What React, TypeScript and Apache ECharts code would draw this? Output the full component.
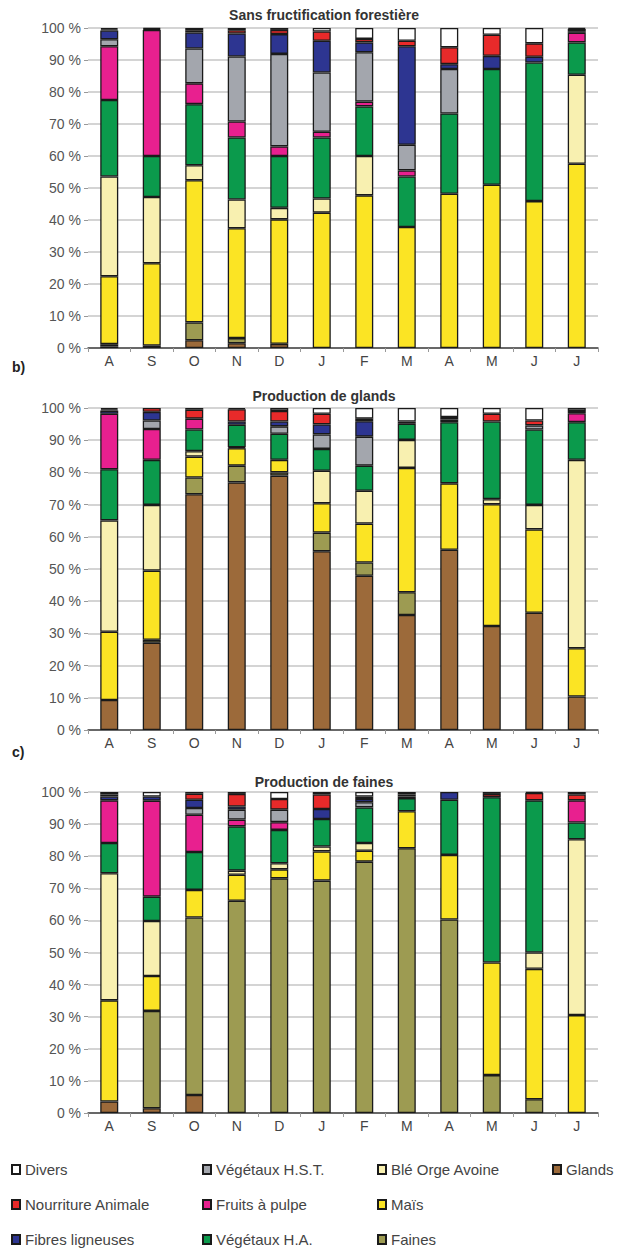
import React, { useEffect, useRef } from "react";
import * as echarts from "echarts";

const months = ["A", "S", "O", "N", "D", "J", "F", "M", "A", "M", "J", "J"];
const chartTitles = ["Sans fructification forestière", "Production de glands", "Production de faines"];
const panelTags = ["", "b)", "c)"];

const seriesNames = [
  "Glands", "Faines", "Maïs", "Blé Orge Avoine", "Végétaux H.A.",
  "Fruits à pulpe", "Végétaux H.S.T.", "Fibres ligneuses", "Nourriture Animale", "Divers",
];
const seriesColors = [
  "#9c6a3a", "#9d9b52", "#fbe424", "#f8f0b0", "#0b9a4c",
  "#e8208f", "#a3a6ad", "#2d3591", "#e82a2a", "#ffffff",
];

// a) Sans fructification forestière
const aGlands = [0.5, 0.8, 2.4, 1.5, 1.3, 0, 0, 0, 0, 0, 0, 0];
const aFaines = [0.7, 0, 5.6, 1.6, 0, 0, 0, 0, 0, 0, 0, 0];
const aMais = [21.2, 25.7, 44.4, 34.3, 38.9, 42.3, 47.7, 37.8, 48.2, 51, 45.9, 57.6];
const aBle = [31.2, 20.7, 4.7, 9.0, 3.6, 4.4, 12.3, 0, 0, 0, 0, 27.8];
const aHA = [23.9, 12.8, 19.1, 19.4, 16.2, 19.1, 15.5, 15.8, 25.1, 36.2, 43.3, 10.1];
const aFruits = [16.8, 39.4, 6.5, 5.0, 3.0, 1.8, 1.5, 1.9, 0, 0, 0, 3.0];
const aHST = [2.2, 0, 10.9, 20.3, 28.9, 18.5, 15.4, 8.0, 13.9, 0, 0, 0];
const aFibres = [2.7, 0.3, 5.0, 7.2, 6.2, 9.9, 3.1, 30.8, 1.5, 4.1, 1.8, 0.5];
const aNourr = [0.4, 0.3, 0.7, 1.0, 1.3, 2.9, 1.1, 1.7, 5.3, 6.6, 4.2, 0.7];
const aDivers = [0.4, 0, 0.7, 0.7, 0.6, 1.1, 3.4, 4.0, 6.0, 2.1, 4.8, 0.3];

// b) Production de glands
const bGlands = [9.3, 27.1, 73.2, 76.9, 79.0, 55.5, 47.9, 35.7, 56.0, 32.3, 36.4, 10.4];
const bFaines = [0, 0.9, 5.2, 5.2, 1.0, 5.8, 4.1, 7.1, 0, 0, 0, 0];
const bMais = [21.2, 21.5, 6.5, 5.4, 3.9, 9.1, 12.1, 38.6, 20.6, 37.8, 25.9, 15.0];
const bBle = [34.6, 20.4, 1.7, 0.3, 0, 10.1, 10.2, 8.7, 0, 1.6, 7.6, 58.5];
const bHA = [15.9, 14.0, 6.7, 7.0, 8.1, 6.8, 7.8, 5.0, 19.0, 24.1, 23.4, 11.7];
const bFruits = [17.2, 9.6, 3.4, 0, 0, 0, 0, 0.7, 0, 0, 0, 2.8];
const bHST = [0, 2.6, 0, 0, 2.3, 4.5, 9.0, 0, 0, 0, 1.3, 0];
const bFibres = [1.0, 2.7, 0, 1.0, 1.5, 3.1, 4.8, 0, 0.8, 0, 0, 0];
const bNourr = [0.4, 1.2, 2.8, 3.8, 3.3, 3.3, 0.8, 0, 0.8, 2.4, 1.5, 0.7];
const bDivers = [0.4, 0, 0.5, 0.4, 0.9, 1.8, 3.3, 4.2, 2.8, 1.8, 3.9, 0.9];

// c) Production de faines
const cGlands = [3.6, 1.5, 5.6, 0, 0, 0, 0, 0, 0, 0, 0, 0];
const cFaines = [0, 30.3, 55.3, 66.1, 73.1, 72.4, 78.3, 82.5, 60.3, 11.8, 4.3, 0];
const cMais = [31.5, 10.9, 8.6, 8.1, 2.8, 9.1, 3.4, 11.5, 20.1, 35.1, 40.6, 30.5];
const cBle = [39.6, 17.1, 0, 1.3, 1.9, 1.5, 2.4, 0, 0, 0, 5.1, 54.8];
const cHA = [9.4, 7.6, 11.8, 13.8, 10.4, 8.6, 11.1, 4.1, 17.2, 51.5, 47.4, 5.2];
const cFruits = [13.3, 29.9, 11.6, 2.1, 2.4, 0, 0, 0, 0, 0, 0, 6.9];
const cHST = [0, 0, 2.1, 3.1, 3.9, 0, 1.6, 0, 0, 0, 0, 0];
const cFibres = [1.2, 1.3, 2.6, 1.0, 0, 3.1, 1.0, 0.5, 2.4, 0, 0, 0];
const cNourr = [0.6, 0, 1.9, 3.9, 3.3, 4.5, 0.8, 0.6, 0, 1.0, 2.3, 1.8];
const cDivers = [0.8, 1.4, 0.5, 0.6, 2.2, 0.8, 1.4, 0.8, 0, 0.6, 0.3, 0.8];

const panelData = [
  [aGlands, aFaines, aMais, aBle, aHA, aFruits, aHST, aFibres, aNourr, aDivers],
  [bGlands, bFaines, bMais, bBle, bHA, bFruits, bHST, bFibres, bNourr, bDivers],
  [cGlands, cFaines, cMais, cBle, cHA, cFruits, cHST, cFibres, cNourr, cDivers],
];

const legendColumns = [
  ["Divers", "Nourriture Animale", "Fibres ligneuses"],
  ["Végétaux H.S.T.", "Fruits à pulpe", "Végétaux H.A."],
  ["Blé Orge Avoine", "Maïs", "Faines"],
  ["Glands"],
];

const FONT = "'Liberation Sans', Arial, sans-serif";

export default function App() {
  const ref = useRef<HTMLDivElement>(null);
  useEffect(() => {
    document.body.style.margin = "0";
    if (!ref.current) return;
    const chart = echarts.init(ref.current, null, { renderer: "svg" });

    const grids = [
      { left: 88, width: 510, top: 28, height: 320 },
      { left: 88, width: 510, top: 408, height: 322 },
      { left: 88, width: 510, top: 792, height: 321 },
    ];
    const titleY = [15, 396, 782];
    const tagY = [0, 367, 752];

    const xAxes = grids.map((_, i) => ({
      type: "category",
      gridIndex: i,
      data: months,
      axisLine: { lineStyle: { color: "#444", width: 1.5 } },
      axisTick: { show: true, length: 4, lineStyle: { color: "#999" } },
      axisLabel: { color: "#444", fontSize: 14, fontFamily: FONT, margin: 6 },
    }));
    const yAxes = grids.map((_, i) => ({
      type: "value",
      gridIndex: i,
      min: 0,
      max: 100,
      interval: 10,
      axisLine: { show: false },
      axisTick: { show: true, length: 4, lineStyle: { color: "#999" } },
      axisLabel: { color: "#555", fontSize: 14, fontFamily: FONT, margin: 7, formatter: "{value} %" },
      splitLine: { lineStyle: { color: "#c6c6c6", width: 1.5 } },
    }));

    const series: any[] = [];
    panelData.forEach((arrs, p) => {
      arrs.forEach((arr, k) => {
        series.push({
          type: "bar",
          name: seriesNames[k],
          stack: "s" + p,
          xAxisIndex: p,
          yAxisIndex: p,
          barWidth: 18,
          data: arr.map((v) => (v === 0 ? "-" : v)),
          itemStyle: { color: seriesColors[k], borderColor: "#1a1a1a", borderWidth: 1.3 },
        });
      });
    });

    const legendLeft = [11, 202, 377, 552];
    const legends = legendColumns.map((col, i) => ({
      data: col,
      orient: "vertical",
      left: legendLeft[i],
      top: 1162,
      padding: 0,
      itemGap: 20,
      itemWidth: 8,
      itemHeight: 9,
      icon: "rect",
      selectedMode: false,
      textStyle: { color: "#444", fontSize: 15, fontFamily: FONT, lineHeight: 14 },
    }));

    const graphics: any[] = [];
    chartTitles.forEach((t, i) => {
      graphics.push({
        type: "text",
        x: 324,
        y: titleY[i],
        style: {
          text: t,
          textAlign: "center",
          textVerticalAlign: "middle",
          font: `bold 14px ${FONT}`,
          fill: "#333",
        },
      });
    });
    panelTags.forEach((t, i) => {
      if (!t) return;
      graphics.push({
        type: "text",
        x: 12,
        y: tagY[i],
        style: { text: t, textVerticalAlign: "middle", font: `bold 14px ${FONT}`, fill: "#222" },
      });
    });

    chart.setOption({
      animation: false,
      backgroundColor: "#ffffff",
      grid: grids,
      xAxis: xAxes,
      yAxis: yAxes,
      legend: legends,
      series,
      graphic: graphics,
    });
    return () => chart.dispose();
  }, []);
  return <div ref={ref} style={{ width: 622, height: 1252 }} />;
}
